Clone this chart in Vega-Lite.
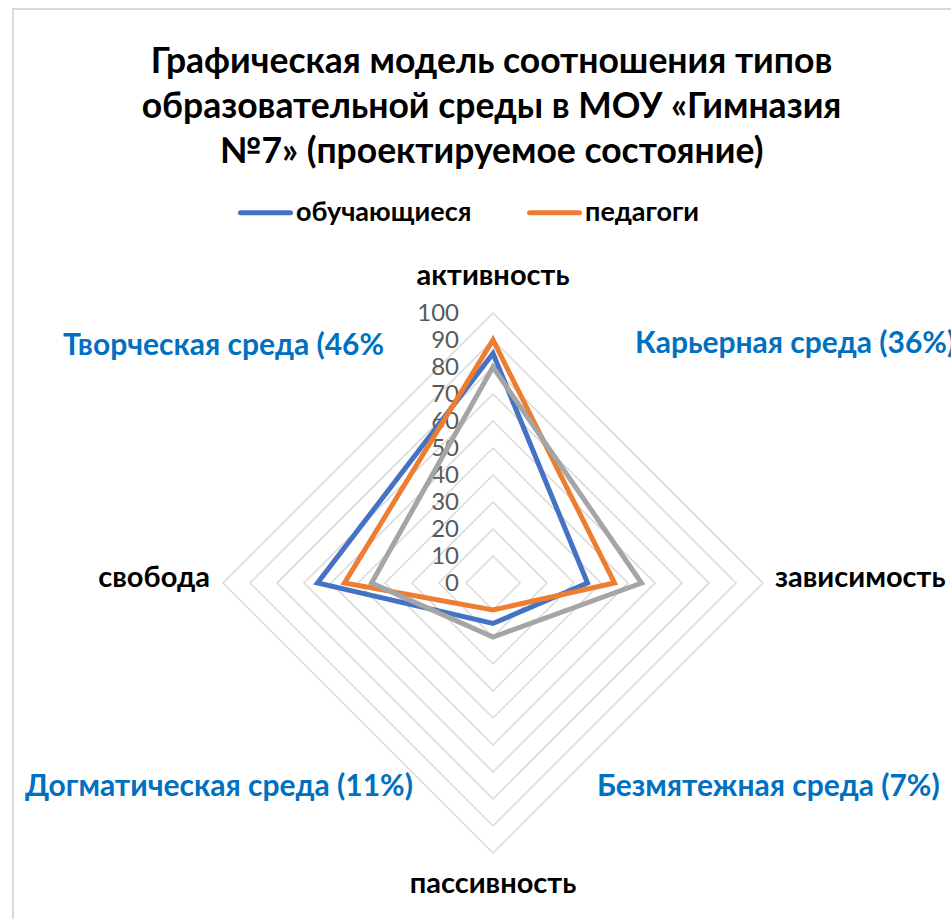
{
  "$schema": "https://vega.github.io/schema/vega-lite/v6.json",
  "width": 941,
  "height": 913,
  "autosize": {"type": "none"},
  "padding": {"left": 13, "top": 9, "right": -3, "bottom": -3},
  "background": "white",
  "config": {
    "view": {"stroke": "#d9d9d9", "strokeWidth": 2},
    "font": "Lato"
  },
  "title": {
    "text": ["Графическая модель соотношения типов", "образовательной среды в МОУ «Гимназия", "№7» (проектируемое состояние)"],
    "font": "Lato",
    "fontSize": 35.5,
    "fontWeight": "bold",
    "color": "#000000",
    "lineHeight": 45,
    "anchor": "middle",
    "frame": "group",
    "baseline": "alphabetic",
    "offset": -189,
    "dx": 8
  },
  "datasets": {
    "series": [
      {"series": "обучающиеся", "axis": "активность", "value": 85},
      {"series": "обучающиеся", "axis": "зависимость", "value": 35},
      {"series": "обучающиеся", "axis": "пассивность", "value": 15},
      {"series": "обучающиеся", "axis": "свобода", "value": 65},
      {"series": "педагоги", "axis": "активность", "value": 90},
      {"series": "педагоги", "axis": "зависимость", "value": 45},
      {"series": "педагоги", "axis": "пассивность", "value": 10},
      {"series": "педагоги", "axis": "свобода", "value": 55},
      {"series": "Ряд3", "axis": "активность", "value": 80},
      {"series": "Ряд3", "axis": "зависимость", "value": 55},
      {"series": "Ряд3", "axis": "пассивность", "value": 20},
      {"series": "Ряд3", "axis": "свобода", "value": 45}
    ],
    "grid": [
      {"value": 0, "axis": ["активность", "зависимость", "пассивность", "свобода"]},
      {"value": 10, "axis": ["активность", "зависимость", "пассивность", "свобода"]},
      {"value": 20, "axis": ["активность", "зависимость", "пассивность", "свобода"]},
      {"value": 30, "axis": ["активность", "зависимость", "пассивность", "свобода"]},
      {"value": 40, "axis": ["активность", "зависимость", "пассивность", "свобода"]},
      {"value": 50, "axis": ["активность", "зависимость", "пассивность", "свобода"]},
      {"value": 60, "axis": ["активность", "зависимость", "пассивность", "свобода"]},
      {"value": 70, "axis": ["активность", "зависимость", "пассивность", "свобода"]},
      {"value": 80, "axis": ["активность", "зависимость", "пассивность", "свобода"]},
      {"value": 90, "axis": ["активность", "зависимость", "пассивность", "свобода"]},
      {"value": 100, "axis": ["активность", "зависимость", "пассивность", "свобода"]}
    ],
    "axislabels": [
      {"axis": "активность"},
      {"axis": "зависимость"},
      {"axis": "пассивность"},
      {"axis": "свобода"}
    ],
    "quadrants": [
      {"quadrant": "активность-свобода", "note": "Творческая среда (46%"},
      {"quadrant": "активность-зависимость", "note": "Карьерная среда (36%)"},
      {"quadrant": "пассивность-свобода", "note": "Догматическая среда (11%)"},
      {"quadrant": "пассивность-зависимость", "note": "Безмятежная среда (7%)"}
    ]
  },
  "encoding": {
    "x": {"field": "x", "type": "quantitative", "scale": {"domain": [-177.78, 170.74], "nice": false, "zero": false}, "axis": null},
    "y": {"field": "y", "type": "quantitative", "scale": {"domain": [-125.56, 212.59], "nice": false, "zero": false}, "axis": null}
  },
  "layer": [
    {
      "data": {"name": "grid"},
      "transform": [
        {"flatten": ["axis"]},
        {"calculate": "datum.axis === 'зависимость' ? datum.value : (datum.axis === 'свобода' ? -datum.value : 0)", "as": "x"},
        {"calculate": "datum.axis === 'активность' ? datum.value : (datum.axis === 'пассивность' ? -datum.value : 0)", "as": "y"},
        {"calculate": "indexof(['активность', 'зависимость', 'пассивность', 'свобода'], datum.axis)", "as": "k"}
      ],
      "mark": {"type": "line", "interpolate": "linear-closed", "color": "#d9d9d9", "strokeWidth": 1.5},
      "encoding": {
        "detail": {"field": "value", "type": "nominal"},
        "order": {"field": "k", "type": "quantitative"}
      }
    },
    {
      "data": {"name": "grid"},
      "transform": [
        {"calculate": "0", "as": "x"},
        {"calculate": "datum.value", "as": "y"}
      ],
      "mark": {"type": "text", "align": "right", "baseline": "middle", "dx": -34, "dy": 1, "fontSize": 24, "font": "Lato", "color": "#595959"},
      "encoding": {
        "text": {"field": "value", "type": "quantitative"}
      }
    },
    {
      "data": {"name": "series"},
      "transform": [
        {"calculate": "datum.axis === 'зависимость' ? datum.value : (datum.axis === 'свобода' ? -datum.value : 0)", "as": "x"},
        {"calculate": "datum.axis === 'активность' ? datum.value : (datum.axis === 'пассивность' ? -datum.value : 0)", "as": "y"},
        {"calculate": "indexof(['активность', 'зависимость', 'пассивность', 'свобода'], datum.axis)", "as": "k"}
      ],
      "mark": {"type": "line", "interpolate": "linear-closed", "strokeWidth": 5, "strokeJoin": "miter"},
      "encoding": {
        "color": {
          "field": "series",
          "type": "nominal",
          "sort": null,
          "scale": {"domain": ["обучающиеся", "педагоги", "Ряд3"], "range": ["#4472C4", "#ED7D31", "#A5A5A5"]},
          "legend": {
            "values": ["обучающиеся", "педагоги"],
            "title": null,
            "orient": "none",
            "direction": "horizontal",
            "legendX": 225,
            "legendY": 176,
            "symbolType": "stroke",
            "symbolSize": 2500,
            "symbolStrokeWidth": 5,
            "labelFont": "Lato",
            "labelFontSize": 27,
            "labelFontWeight": "bold",
            "labelColor": "#000000",
            "labelOffset": 3,
            "labelLimit": 0,
            "columnPadding": 47,
            "padding": 0,
            "encode": {"symbols": {"update": {"strokeCap": {"value": "round"}}}}
          }
        },
        "order": {"field": "k", "type": "quantitative"}
      }
    },
    {
      "data": {"name": "axislabels"},
      "transform": [
        {"filter": "datum.axis === 'активность'"},
        {"calculate": "0", "as": "x"},
        {"calculate": "100", "as": "y"}
      ],
      "mark": {"type": "text", "align": "center", "baseline": "alphabetic", "dy": -28, "fontSize": 29, "fontWeight": "bold", "font": "Lato", "color": "#000000"},
      "encoding": {"text": {"field": "axis", "type": "nominal"}}
    },
    {
      "data": {"name": "axislabels"},
      "transform": [
        {"filter": "datum.axis === 'зависимость'"},
        {"calculate": "100", "as": "x"},
        {"calculate": "0", "as": "y"}
      ],
      "mark": {"type": "text", "align": "left", "baseline": "alphabetic", "dx": 12, "dy": 4, "fontSize": 29, "fontWeight": "bold", "font": "Lato", "color": "#000000"},
      "encoding": {"text": {"field": "axis", "type": "nominal"}}
    },
    {
      "data": {"name": "axislabels"},
      "transform": [
        {"filter": "datum.axis === 'пассивность'"},
        {"calculate": "0", "as": "x"},
        {"calculate": "-100", "as": "y"}
      ],
      "mark": {"type": "text", "align": "center", "baseline": "alphabetic", "dy": 40, "fontSize": 29, "fontWeight": "bold", "font": "Lato", "color": "#000000"},
      "encoding": {"text": {"field": "axis", "type": "nominal"}}
    },
    {
      "data": {"name": "axislabels"},
      "transform": [
        {"filter": "datum.axis === 'свобода'"},
        {"calculate": "-100", "as": "x"},
        {"calculate": "0", "as": "y"}
      ],
      "mark": {"type": "text", "align": "right", "baseline": "alphabetic", "dx": -13, "dy": 4, "fontSize": 29, "fontWeight": "bold", "font": "Lato", "color": "#000000"},
      "encoding": {"text": {"field": "axis", "type": "nominal"}}
    },
    {
      "data": {"name": "quadrants"},
      "transform": [
        {"calculate": "datum.quadrant === 'активность-свобода' ? -159.3 : (datum.quadrant === 'активность-зависимость' ? 52.6 : (datum.quadrant === 'пассивность-свобода' ? -173.3 : 38.5))", "as": "x"},
        {"calculate": "datum.quadrant === 'активность-свобода' ? 84.4 : (datum.quadrant === 'активность-зависимость' ? 85.2 : -78.9)", "as": "y"}
      ],
      "mark": {"type": "text", "align": "left", "baseline": "alphabetic", "fontSize": 30, "fontWeight": "bold", "font": "Lato", "color": "#0070C0"},
      "encoding": {"text": {"field": "note", "type": "nominal"}}
    }
  ]
}
